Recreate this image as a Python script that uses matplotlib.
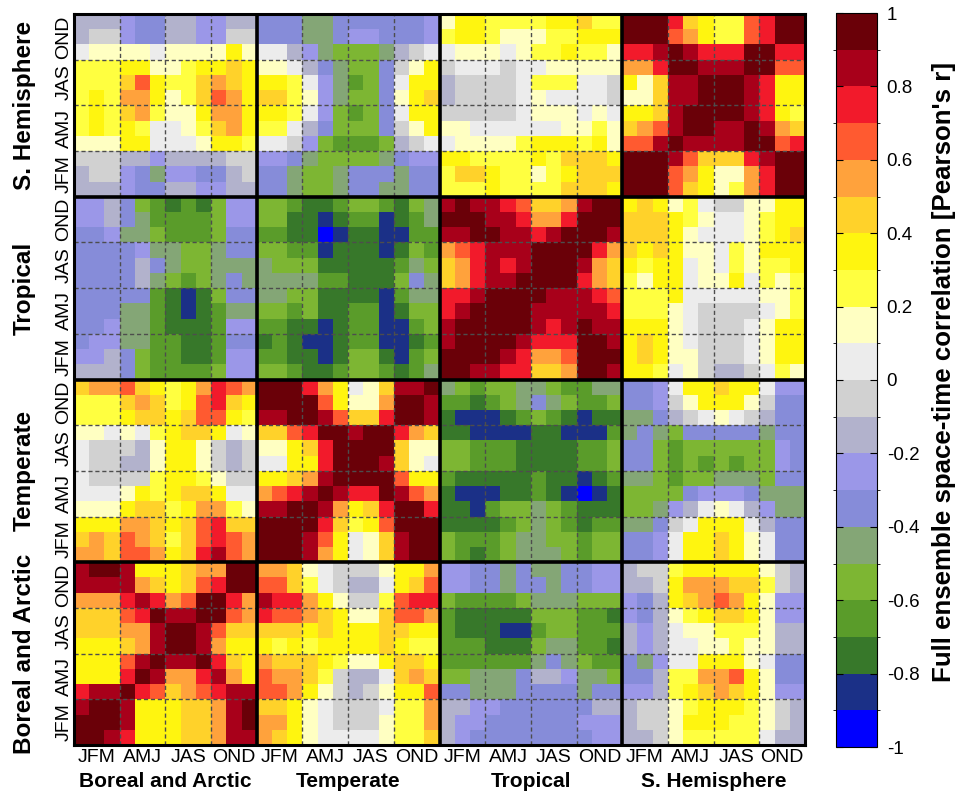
import numpy as np
import matplotlib
matplotlib.use('Agg')
import matplotlib.pyplot as plt
from matplotlib.colors import ListedColormap, BoundaryNorm

plt.rcParams['font.family'] = ['Liberation Sans', 'DejaVu Sans']

# 20 colour classes, -1..1 in steps of 0.1; one character per class
codes = '0123456789ABCDEFGHIJ'
level_colors = ['#0000ff', '#1b3087', '#37782a', '#5a9c2a', '#7db633',
                '#84a676', '#868cd9', '#9b97e8', '#b2b2cc', '#d1d1d1',
                '#ececec', '#ffffc2', '#ffff40', '#fff50f', '#ffd22a',
                '#ffa23c', '#ff5a30', '#f21a2b', '#a8001a', '#6a0008']

regions = ['Boreal and Arctic', 'Temperate', 'Tropical', 'S. Hemisphere']
seasons = ['JFM', 'AMJ', 'JAS', 'OND']

# rows as seen in the picture: top (Dec) to bottom (Jan)
# column blocks: Boreal | Temperate | Tropical | S. Hemisphere (Jan..Dec each)
sh_rows = [
    '888766887788 666556666667 BDDCCCCDDECC JJJHEDCCGHJJ',
    '899766887799 666556776667 CDDCBBBCCDDD JJJGFDCCGHJJ',
    'ABBBBABBBBDB AA875444589A ABBBABCCDCCB HHIJIHHHJJHH',
    'CCCDDBBCDDED BBA8654469BD 9AAA9AABBBBB FFHJJIIIJJGG',
    'CCCEGDCCEFED DDCA75346ADD 89999ACCCAA9 DBEIIJJJIHDD',
    'CDCFFDBCEGFD EECB75446BDE 89999ABAAAA9 BBEIIJJJIHDD',
    'CDCEFCBBDFFD DDCA74346ADD 99999ABBBABA DDEIJJJJIHDC',
    'CDCDCAABCEFD CCA8644469BD BBAAAAAABBCB EFGIJJIIJIFE',
    'BBBDDAAABDDC AA974333489A ABBBBCDDDCDB GGIJIIIIJJGH',
    '999887888899 776544445677 DDCCCCDCEEED JJJIGEEEHIJJ',
    '899765776689 665445666566 CEEDCCBCDEEE JJJGFDBBFHJJ',
    '888766887788 665445665566 CCCDCCCCEEED JJJGEDBCFHJJ',
]
tropical_rows = [
    '778643232477 443223443245 IJIIHGEEFIJJ DEDBCA99BBDD',
    '778653333477 442212331235 JJJIIHFFHJJJ EEEDCBAABCDD',
    '667554333466 332201221133 IIJJIIHIJJJI EEEDBAAABCDE',
    '666675544566 443312221243 FGHIIIJJJJHF EDEDBBACBDDD',
    '666686544555 544422222354 EFHIHIJJJIFE DCDDABACBCCD',
    '666685434565 555533222465 EFHIIJJJJHFE CBDDABBDACBC',
    '666663212466 554422221355 HHIJJJJIIIHG CCCDAAAAABBC',
    '666553212355 443422331244 HIJJJJIIIIIH CCCBA9999ABC',
    '667553222377 332212331134 IJJJJJIHIJII DDDBA999ABDD',
    '677553322366 232112331123 IJJJJIHHHJJI DEDBA999ABDD',
    '778643322377 332212442134 JJJJIHFFGJJJ DEDBB999ABDD',
    '888643333477 443223443235 JJIIHHEEFJJI DDCAB9889ACB',
]
temperate_rows = [
    'EFFGEDCDFHGF JJJHFDABEIIJ 543445543355 667ADDEDDA77',
    'CCCEFECDGHED JJJJGDBBFJJI 332345654334 6679BDDDB966',
    'CCCDEEDEGGDC IIJJIGEEHJJI 211123432122 55689ABA9866',
    'BBABACDEEDAB EEGHJJIJJHFE 221111221113 565466666566',
    'A9998BDDB989 BBDEHJJJJEBB 443332222334 664344444476',
    'A9988BDDB989 AADDHJJJIEBA 443332222334 664343434476',
    'A9999CDDCB99 DDEFIJJJJGDD 322222322123 554344555466',
    'AAABDCDEEDAA FGHIJIHHJIGF 211122321012 444467776555',
    'BBBDEECDFFCB IIJJIFDEHJJH 221344543222 44578ABA8755',
    'DDDFFEDEGHEE JJJJHECDGJJJ 222234543233 5569ADDDA866',
    'EFEGFECEGHGF JJJIGDABEIJJ 433345544344 667ADDEDBA66',
    'FFEGGFDEHIGF JJJIFDABEIJJ 432345554344 667ADDEDBA66',
]
boreal_rows = [
    'IJJIDDDEFFJJ FFEBA999BDDF 776656556677 899CDDDDDB98',
    'IIIIFEDEGHJJ GGECA988ADEG 776656656677 889DFFFEEC98',
    'FFFHIHFGJJHF IHHFDB99CGHH 433334555444 768DEFGFDB77',
    'EEEGHJIIJJGF HGGFEDBBEGGF 322222444332 768BCDEEDB77',
    'EEEFFIJJIGEE EEEDEDDDEEDD 322211344333 878ABBCCCB88',
    'DDDEFIJJIFDD DCDCDDDDEDCC 333222455332 878AABBCBB88',
    'DDDGIJIIJHED FEEEDCBBDEED 333333565433 657AADDDBA66',
    'DDDHJIFFHIFD GFFEC988AEFE 445556887554 668CCFFGDB66',
    'HIIJHGEFGHII GGFDB989BDDG 665556666566 778CDEFEDB77',
    'IJJIDDDEEFIJ EEDBA999ACCF 887766666688 899BCDDDCB98',
    'JJJIDDDEEFIJ FFDBA999BCCF 877666666777 899BDDDCCB98',
    'JJIHDDDEEFII FEDBAAAABCCE 876666666677 889BCCCCCA88',
]


def decode(rows):
    # class index -> class centre value, flipped so Jan is the first row
    vals = [[-0.95 + 0.1 * codes.index(ch) for ch in r.replace(' ', '')] for r in rows]
    return np.array(vals)[::-1]


corr = np.vstack([decode(boreal_rows), decode(temperate_rows),
                  decode(tropical_rows), decode(sh_rows)])

cmap = ListedColormap(level_colors)
bounds = np.linspace(-1, 1, 21)
norm = BoundaryNorm(bounds, cmap.N)

fig = plt.figure(figsize=(9.59, 7.95), dpi=100)
ax = fig.add_axes([74 / 959, 50 / 795, 731 / 959, 731 / 795])

n = corr.shape[0]
edges = np.arange(n + 1)
mesh = ax.pcolormesh(edges, edges, corr, cmap=cmap, norm=norm, shading='flat')
ax.set_xlim(0, n)
ax.set_ylim(0, n)

# dashed season separators and thick region separators
for k in range(1, 16):
    if k % 4:
        ax.axvline(3 * k, color='#4d4d4d', lw=1.0, ls=(0, (3, 2)), zorder=3)
        ax.axhline(3 * k, color='#4d4d4d', lw=1.0, ls=(0, (3, 2)), zorder=3)
for b in (12, 24, 36):
    ax.axvline(b, color='black', lw=2.6, zorder=4)
    ax.axhline(b, color='black', lw=2.6, zorder=4)
for sp in ax.spines.values():
    sp.set_linewidth(2.2)
    sp.set_zorder(5)

tick_pos = [12 * b + 1.5 + 3 * s for b in range(4) for s in range(4)]
ax.set_xticks(tick_pos)
ax.set_xticklabels(seasons * 4)
ax.set_yticks(tick_pos)
ax.set_yticklabels(seasons * 4, rotation=90, va='center')
ax.tick_params(axis='both', length=0, labelsize=14)
ax.tick_params(axis='x', pad=3)
ax.tick_params(axis='y', pad=1)

for b, name in enumerate(regions):
    ax.annotate(name, xy=(12 * b + 6, 0), xycoords=('data', 'axes fraction'),
                xytext=(0, -26.5), textcoords='offset points',
                ha='center', va='center', fontsize=15, fontweight='bold')
    ax.annotate(name, xy=(0, 12 * b + 6), xycoords=('axes fraction', 'data'),
                xytext=(-35.5, 0), textcoords='offset points', rotation=90,
                ha='center', va='center', fontsize=17.5, fontweight='bold')

# colorbar
cax = fig.add_axes([836 / 959, 48 / 795, 41 / 959, 734 / 795])
cb = fig.colorbar(mesh, cax=cax, ticks=np.linspace(-1, 1, 11))
cb.set_ticklabels(['0' if abs(v) < 1e-9 else '%g' % v for v in np.linspace(-1, 1, 11)])
cb.outline.set_linewidth(0.8)
cax.yaxis.set_ticks_position('both')
cax.tick_params(direction='in', length=5, width=0.8, labelsize=13.5,
                labelleft=False, labelright=True, pad=7)

fig.text(944 / 959, 1 - 372 / 795, "Full ensemble space-time correlation [Pearson's r]",
         rotation=90, ha='center', va='center', fontsize=18.6, fontweight='bold')

fig.savefig('out.png', dpi=100)
